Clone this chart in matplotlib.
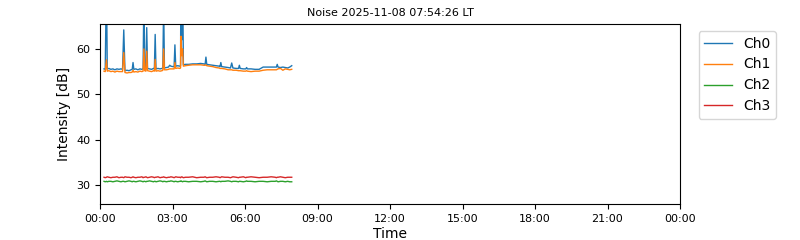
import numpy as np
import pandas as pd
import matplotlib
matplotlib.use("Agg")
from matplotlib import pyplot as plt
import matplotlib.dates as mdates

# minutes after midnight for each sample
minutes = [10, 13, 16, 18, 22, 27, 32, 37, 42, 47,
           52, 56, 59, 62, 67, 72, 77, 80, 82, 84,
           89, 94, 99, 104, 107, 109, 111, 114, 116, 118,
           123, 128, 133, 135, 137, 139, 144, 149, 154, 156,
           158, 160, 165, 170, 173, 176, 181, 184, 186, 188,
           193, 198, 200, 201, 203, 205, 207, 212, 220, 230,
           240, 250, 258, 261, 263, 265, 272, 280, 288, 296,
           298, 300, 302, 310, 318, 324, 327, 330, 338, 344,
           346, 348, 356, 362, 364, 366, 375, 385, 395, 405,
           415, 425, 435, 438, 440, 442, 448, 454, 460, 466,
           471, 476]

ch0 = [55.6, 55.5, 76.0, 55.6, 55.7, 55.5, 55.6, 55.4, 55.6, 55.5,
       55.6, 55.5, 64.2, 55.2, 55.3, 55.2, 55.4, 55.5, 57.0, 55.5,
       55.6, 55.4, 55.6, 55.5, 55.6, 72.0, 55.6, 55.6, 64.7, 55.7,
       55.6, 55.5, 55.7, 55.6, 63.2, 55.6, 55.7, 55.6, 55.7, 55.8,
       70.0, 55.8, 55.9, 56.0, 56.4, 56.2, 56.1, 56.1, 60.9, 56.2,
       56.3, 56.2, 56.3, 80.0, 62.0, 78.0, 56.5, 56.6, 56.6, 56.7,
       56.7, 56.8, 56.7, 56.6, 58.2, 56.6, 56.5, 56.4, 56.3, 56.2,
       56.1, 57.0, 56.1, 56.0, 55.9, 55.8, 56.9, 55.8, 55.7, 55.7,
       56.4, 55.7, 55.6, 55.6, 55.9, 55.6, 55.6, 55.5, 55.5, 56.0,
       56.0, 56.0, 56.0, 56.0, 56.6, 56.0, 55.9, 56.0, 55.9, 55.8,
       56.0, 56.3]

ch1 = [55.1, 55.0, 57.6, 55.1, 55.2, 55.0, 55.1, 54.9, 55.1, 55.0,
       55.0, 55.0, 59.2, 54.8, 54.7, 54.8, 54.8, 54.9, 55.3, 54.9,
       55.0, 54.9, 55.1, 55.0, 55.1, 60.0, 55.2, 55.1, 59.5, 55.2,
       55.1, 55.0, 55.2, 55.1, 57.7, 55.1, 55.2, 55.1, 55.2, 55.3,
       60.0, 55.4, 55.4, 55.5, 55.6, 55.6, 55.6, 55.6, 57.0, 55.7,
       55.8, 55.7, 55.8, 62.8, 58.5, 60.0, 56.2, 56.3, 56.4, 56.5,
       56.5, 56.5, 56.4, 56.4, 56.5, 56.3, 56.2, 56.1, 55.9, 55.8,
       55.7, 55.7, 55.7, 55.6, 55.4, 55.4, 55.4, 55.3, 55.3, 55.2,
       55.2, 55.2, 55.1, 55.1, 55.2, 55.1, 55.0, 55.1, 55.1, 55.3,
       55.4, 55.4, 55.4, 55.4, 55.5, 55.6, 55.7, 55.3, 55.6, 55.5,
       55.4, 55.5]

ch2 = [30.8, 30.7, 30.8, 30.7, 30.8, 30.8, 30.7, 30.8, 30.9, 30.8,
       30.7, 30.8, 30.8, 30.7, 30.8, 30.9, 30.8, 30.7, 30.8, 30.8,
       30.7, 30.8, 30.9, 30.8, 30.7, 30.8, 30.8, 30.7, 30.8, 30.8,
       30.9, 30.8, 30.7, 30.8, 30.8, 30.7, 30.8, 30.9, 30.8, 30.7,
       30.8, 30.8, 30.7, 30.8, 30.8, 30.9, 30.8, 30.7, 30.8, 30.8,
       30.7, 30.8, 30.8, 30.9, 30.8, 30.7, 30.8, 30.8, 30.7, 30.8,
       30.8, 30.7, 30.8, 30.9, 30.8, 30.7, 30.8, 30.8, 30.7, 30.8,
       30.8, 30.7, 30.8, 30.8, 30.9, 30.8, 30.7, 30.8, 30.8, 30.7,
       30.8, 30.8, 30.7, 30.8, 30.9, 30.8, 30.8, 30.7, 30.8, 30.8,
       30.7, 30.8, 30.8, 30.9, 30.8, 30.7, 30.8, 30.8, 30.7, 30.8,
       30.7, 30.7]

ch3 = [31.7, 31.6, 31.7, 31.8, 31.7, 31.6, 31.7, 31.7, 31.8, 31.6,
       31.7, 31.7, 31.6, 31.8, 31.7, 31.7, 31.6, 31.7, 31.8, 31.7,
       31.6, 31.7, 31.7, 31.8, 31.6, 31.7, 31.7, 31.8, 31.7, 31.6,
       31.7, 31.8, 31.7, 31.6, 31.7, 31.7, 31.8, 31.6, 31.7, 31.7,
       31.8, 31.7, 31.6, 31.7, 31.7, 31.8, 31.7, 31.6, 31.7, 31.8,
       31.7, 31.7, 31.6, 31.7, 31.8, 31.7, 31.6, 31.7, 31.7, 31.8,
       31.6, 31.7, 31.7, 31.8, 31.7, 31.6, 31.7, 31.7, 31.8, 31.7,
       31.6, 31.7, 31.8, 31.7, 31.7, 31.6, 31.7, 31.8, 31.7, 31.6,
       31.7, 31.7, 31.8, 31.6, 31.7, 31.7, 31.8, 31.7, 31.6, 31.7,
       31.7, 31.8, 31.7, 31.6, 31.7, 31.7, 31.8, 31.7, 31.6, 31.7,
       31.7, 31.7]

channels = ["Ch0", "Ch1", "Ch2", "Ch3"]
series = [ch0, ch1, ch2, ch3]

day = pd.Timestamp("2025-11-08")
times = day + pd.to_timedelta(minutes, unit="min")

fig = plt.figure(figsize=(8, 2.4), dpi=100)
ax = fig.add_axes([0.125, 0.15, 0.725, 0.75])

for name, vals in zip(channels, series):
    ax.plot(times, vals, lw=1, label=name)

ax.set_xlim(day, day + pd.Timedelta(hours=24))
ax.set_ylim(25.8, 65.5)
ax.xaxis.set_major_locator(mdates.HourLocator(byhour=range(0, 24, 3)))
ax.xaxis.set_major_formatter(mdates.DateFormatter("%H:%M"))
ax.tick_params(labelsize=8)
ax.set_yticks([30, 40, 50, 60])

ax.set_title("Noise 2025-11-08 07:54:26 LT", fontsize=8)
ax.set_xlabel("Time", fontsize=10, labelpad=2.5)
ax.set_ylabel("Intensity [dB]", fontsize=10)
ax.legend(loc="upper left", bbox_to_anchor=(1.02, 1.0), fontsize=10)

fig.savefig("out.png", dpi=100)
